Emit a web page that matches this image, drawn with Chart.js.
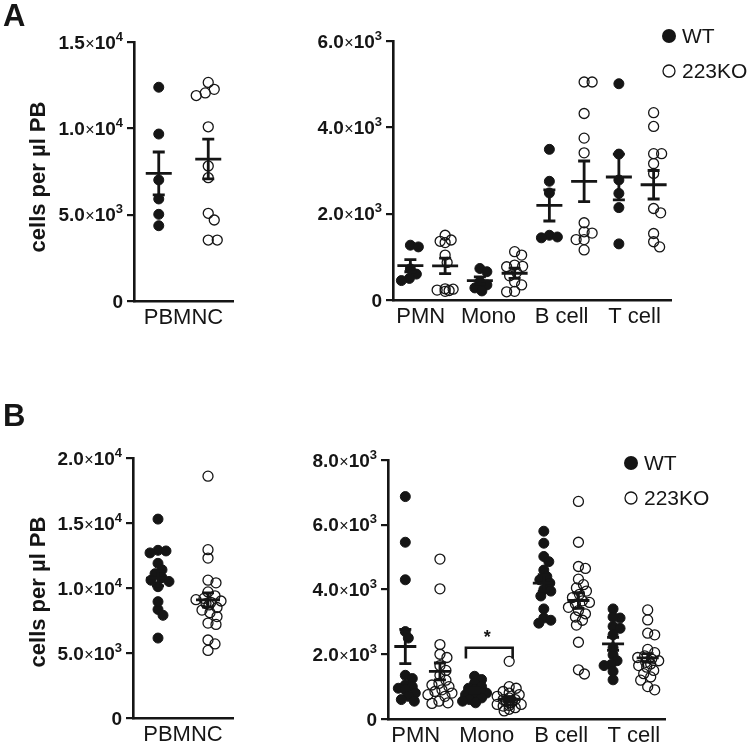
<!DOCTYPE html>
<html>
<head>
<meta charset="utf-8">
<script src="https://cdn.jsdelivr.net/npm/chart.js@4.4.1/dist/chart.umd.min.js"></script>
<style>
  body { margin: 0; background: #fff; }
  #wrap { position: relative; width: 750px; height: 747px; }
  #wrap canvas { position: absolute; left: 0; top: 0; }
</style>
</head>
<body>
<div id="wrap">
  <canvas id="cA1" width="750" height="747"></canvas>
  <canvas id="cA2" width="750" height="747"></canvas>
  <canvas id="cB1" width="750" height="747"></canvas>
  <canvas id="cB2" width="750" height="747"></canvas>
</div>
<script>
// ---- data (cells per ul PB) ----
const seriesNames = ['WT', '223KO'];
const leftCats = ['PBMNC'];
const rightCats = ['PMN', 'Mono', 'B cell', 'T cell'];

// Panel A, left
const aLeftWT = [12380, 9670, 7010, 5910, 4360, 5020];
const aLeftKO = [12660, 12260, 12050, 11900, 10090, 7820, 7140, 5080, 4690, 3530, 3530];
const aLeftMean = [7390, 8220];
const aLeftSem = [1240, 1150];

// Panel A, right (one list per cell type)
const aRightWT = [
  [1270, 1230, 720, 600, 500, 450],
  [730, 655, 420, 350, 280, 210],
  [3490, 2750, 2480, 1500, 1460, 1440],
  [5010, 3380, 2780, 2470, 2140, 1300]
];
const aRightKO = [
  [1500, 1390, 1360, 1330, 1040, 870, 260, 230, 220, 200, 250],
  [1120, 1040, 810, 770, 780, 640, 560, 420, 350, 200, 190],
  [5050, 5050, 4320, 3750, 3410, 1790, 1580, 1550, 1400, 1400, 1160],
  [4340, 4020, 3390, 3390, 3160, 2930, 2120, 2020, 1540, 1350, 1230]
];
const aRightMeanWT = [795, 450, 2190, 2850];
const aRightSemWT = [140, 85, 360, 530];
const aRightMeanKO = [790, 620, 2750, 2670];
const aRightSemKO = [180, 120, 470, 330];

// Panel B, left
const bLeftWT = [15300, 12900, 12700, 12850, 11900, 11400, 11100, 10800, 10500, 10100, 8350, 7900, 8950, 6150, 10600];
const bLeftKO = [18600, 12950, 12300, 10600, 10400, 9700, 9400, 9200, 9000, 8900, 8800, 8700, 8500, 8300, 8100, 7800, 7300, 7200, 6000, 5700, 5200, 9100];
const bLeftMean = [10750, 9080];
const bLeftSem = [580, 540];

// Panel B, right
const bRightWT = [
  [6870, 5460, 4300, 2700, 2500, 1350, 1250, 1050, 1000, 950, 900, 800, 700, 600, 550],
  [1320, 1220, 1100, 1000, 950, 900, 850, 800, 750, 700, 650, 600, 550, 500],
  [5800, 5430, 5020, 4860, 4600, 4400, 4200, 4000, 3950, 3800, 3400, 3120, 2960, 3050, 4300],
  [3400, 3120, 3150, 2860, 2800, 2600, 2200, 1980, 1800, 1680, 1650, 1470, 1210]
];
const bRightKO = [
  [4940, 4020, 2300, 2000, 1900, 1650, 1500, 1350, 1200, 1100, 1050, 1000, 900, 850, 800, 750, 700, 550, 500, 480],
  [1780, 1000, 950, 850, 800, 750, 700, 650, 600, 560, 550, 500, 450, 420, 400, 350, 300, 250, 500, 600, 450, 550],
  [6720, 5460, 4710, 4650, 4320, 4150, 4050, 3950, 3850, 3750, 3650, 3550, 3450, 3350, 3250, 3150, 3050, 2900, 2370, 1520, 1390, 3600],
  [3370, 3060, 2650, 2600, 2150, 2050, 1950, 1900, 1850, 1800, 1750, 1700, 1650, 1600, 1500, 1400, 1300, 1200, 1000, 900]
];
const bRightMeanWT = [2240, 880, 4200, 2320];
const bRightSemWT = [530, 80, 260, 200];
const bRightMeanKO = [1470, 610, 3660, 1890];
const bRightSemKO = [260, 80, 240, 130];

// WT Mono vs 223KO Mono, p < 0.05
const monoSig = { from: 2.25, to: 3.6, top: 2200, foot: 1870, text: '*' };

const FONT = "'Liberation Sans', Arial, Helvetica, sans-serif";
const INK = '#151515';

// spread dots sideways like a column scatter (pixel space)
function swarm(values, center, pxX, pxY, r, maxHalf, overlap) {
    const placed = [];
    const out = new Array(values.length);
    const order = values.map((v, i) => i).sort((a, b) => values[b] - values[a]);
    order.forEach(i => {
        const py = values[i] * pxY;
        let best = 0, bestScore = -Infinity;
        for (let k = 0; k <= 2 * maxHalf; k++) {
            const off = k === 0 ? 0 : (k % 2 ? (k + 1) / 2 : -k / 2);
            let dmin = Infinity;
            placed.forEach(p => {
                const d = Math.hypot(p.ox - off, p.py - py);
                if (d < dmin) dmin = d;
            });
            if (dmin >= 2 * r * overlap) { best = off; break; }
            const score = dmin - 0.5 * Math.abs(off);
            if (score > bestScore) { bestScore = score; best = off; }
        }
        placed.push({ ox: best, py: py });
        out[i] = { x: center + best / pxX, y: values[i] };
    });
    return out;
}

function sciParts(v) {
    const e = Math.floor(Math.log10(v) + 1e-9);
    return [(v / Math.pow(10, e)).toFixed(1), '\u00d7', '10', String(e)];
}

const semBars = {
    id: 'semBars',
    afterDatasetsDraw(chart, args, o) {
        const { ctx, scales: { x, y } } = chart;
        ctx.save();
        ctx.strokeStyle = INK;
        ctx.lineWidth = o.lineWidth;
        ctx.lineCap = 'butt';
        o.centers.forEach((c, i) => {
            const px = x.getPixelForValue(c);
            const pm = y.getPixelForValue(o.means[i]);
            const pt = y.getPixelForValue(o.means[i] + o.sems[i]);
            const pb = y.getPixelForValue(o.means[i] - o.sems[i]);
            ctx.beginPath();
            ctx.moveTo(px - o.halfMean, pm); ctx.lineTo(px + o.halfMean, pm);
            ctx.moveTo(px, pt); ctx.lineTo(px, pb);
            ctx.moveTo(px - o.halfCap, pt); ctx.lineTo(px + o.halfCap, pt);
            ctx.moveTo(px - o.halfCap, pb); ctx.lineTo(px + o.halfCap, pb);
            ctx.stroke();
        });
        ctx.restore();
    }
};

const decor = {
    id: 'decor',
    afterDraw(chart, args, o) {
        const { ctx, chartArea, scales: { x, y } } = chart;
        ctx.save();
        ctx.fillStyle = INK;

        // y tick labels as 1.5x10^4
        const xr = chartArea.left - 11;
        y.ticks.forEach(t => {
            const base = y.getPixelForValue(t.value) + 6.5;
            ctx.textAlign = 'right';
            ctx.textBaseline = 'alphabetic';
            if (t.value === 0) {
                ctx.font = 'bold 19px ' + FONT;
                ctx.fillText('0', xr, base);
                return;
            }
            const p = sciParts(t.value);
            const fonts = ['bold 19px', '16px', 'bold 19px', 'bold 13px'];
            const lift = [0, 0, 0, -8];
            let cx = xr;
            for (let i = p.length - 1; i >= 0; i--) {
                ctx.font = fonts[i] + ' ' + FONT;
                ctx.fillText(p[i], cx, base + lift[i]);
                cx -= ctx.measureText(p[i]).width + (i === 1 ? 0.5 : 0);
            }
        });

        // panel letter
        ctx.textAlign = 'left';
        ctx.textBaseline = 'alphabetic';
        ctx.font = 'bold 31px ' + FONT;
        if (o.letter) ctx.fillText(o.letter.text, o.letter.x, o.letter.y);

        // axis title
        if (o.title) {
            ctx.save();
            ctx.translate(o.title.x, o.title.y);
            ctx.rotate(-Math.PI / 2);
            ctx.textAlign = 'center';
            ctx.textBaseline = 'middle';
            ctx.font = 'bold 22px ' + FONT;
            ctx.fillText(o.title.text, 0, 0);
            ctx.restore();
        }

        // legend
        if (o.legend) {
            const L = o.legend;
            ctx.textBaseline = 'middle';
            ctx.font = '21px ' + FONT;
            ctx.beginPath();
            ctx.arc(L.x, L.y, 7, 0, Math.PI * 2);
            ctx.fill();
            ctx.fillText(seriesNames[0], L.x + 13, L.y + 1);
            ctx.beginPath();
            ctx.lineWidth = 1.3;
            ctx.strokeStyle = INK;
            ctx.arc(L.x, L.y + L.gap, 6, 0, Math.PI * 2);
            ctx.stroke();
            ctx.fillText(seriesNames[1], L.x + 13, L.y + L.gap + 1);
        }

        // significance bracket
        if (o.bracket) {
            const b = o.bracket;
            const x1 = x.getPixelForValue(b.from), x2 = x.getPixelForValue(b.to);
            const yt = y.getPixelForValue(b.top), yf = y.getPixelForValue(b.foot);
            ctx.strokeStyle = INK;
            ctx.lineWidth = 2.6;
            ctx.beginPath();
            ctx.moveTo(x1, yf); ctx.lineTo(x1, yt); ctx.lineTo(x2, yt); ctx.lineTo(x2, yf);
            ctx.stroke();
            ctx.textAlign = 'center';
            ctx.textBaseline = 'middle';
            ctx.font = 'bold 18px ' + FONT;
            ctx.fillText(b.text, (x1 + x2) / 2 - 2, yt - 10);
        }
        ctx.restore();
    }
};

function makePanel(id, cfg) {
    const yW = 10, xH = 40;
    const pxX = (cfg.area.r - cfg.area.l) / cfg.xMax;
    const pxY = (cfg.area.b - cfg.area.t) / cfg.yMax;
    const wtPts = [], koPts = [], centers = [], means = [], sems = [];
    cfg.wt.forEach((vals, i) => {
        wtPts.push(...swarm(vals, 2 * i + 0.5, pxX, pxY, cfg.r, cfg.spread, cfg.overlap));
        centers.push(2 * i + 0.5); means.push(cfg.meanWT[i]); sems.push(cfg.semWT[i]);
    });
    cfg.ko.forEach((vals, i) => {
        koPts.push(...swarm(vals, 2 * i + 1.5, pxX, pxY, cfg.r, cfg.spread, cfg.overlap));
        centers.push(2 * i + 1.5); means.push(cfg.meanKO[i]); sems.push(cfg.semKO[i]);
    });

    return new Chart(document.getElementById(id), {
        type: 'scatter',
        data: {
            datasets: [
                { label: seriesNames[0], data: wtPts, pointRadius: cfg.r, pointBackgroundColor: INK,
                  pointBorderColor: INK, pointBorderWidth: 1, clip: false },
                { label: seriesNames[1], data: koPts, pointRadius: cfg.r, pointBackgroundColor: 'rgba(0,0,0,0)',
                  pointBorderColor: INK, pointBorderWidth: 1.3, clip: false }
            ]
        },
        options: {
            responsive: false,
            animation: false,
            devicePixelRatio: 1,
            events: [],
            layout: { padding: { left: cfg.area.l - yW, right: 750 - cfg.area.r, top: cfg.area.t, bottom: 747 - cfg.area.b - xH } },
            plugins: {
                legend: { display: false },
                tooltip: { enabled: false },
                semBars: { centers, means, sems, halfMean: cfg.halfMean, halfCap: 6, lineWidth: 2.8 },
                decor: { letter: cfg.letter, title: cfg.title, legend: cfg.legend, bracket: cfg.bracket }
            },
            scales: {
                x: {
                    type: 'linear', min: 0, max: cfg.xMax,
                    afterFit: s => { s.height = xH; },
                    afterBuildTicks: s => { s.ticks = cfg.labelPos.map(v => ({ value: v })); },
                    ticks: { callback: (v, i) => cfg.cats[i], color: INK, font: { family: FONT, size: 22 },
                             padding: 4, maxRotation: 0, autoSkip: false },
                    grid: { display: false, drawTicks: false },
                    border: { display: true, color: INK, width: 2.6 }
                },
                y: {
                    min: 0, max: cfg.yMax,
                    afterFit: s => { s.width = yW; },
                    ticks: { stepSize: cfg.yStep, display: false },
                    grid: { display: true, drawOnChartArea: false, drawTicks: true, tickLength: 7, color: INK, lineWidth: 2.2 },
                    border: { display: true, color: INK, width: 2.6 }
                }
            }
        },
        plugins: [semBars, decor]
    });
}

const titleText = 'cells per \u00b5l PB';

makePanel('cA1', {
    area: { l: 134, r: 233, t: 42, b: 301 }, xMax: 2, yMax: 15000, yStep: 5000,
    cats: leftCats, labelPos: [1], wt: [aLeftWT], ko: [aLeftKO],
    meanWT: [aLeftMean[0]], semWT: [aLeftSem[0]], meanKO: [aLeftMean[1]], semKO: [aLeftSem[1]],
    r: 5, spread: 16, overlap: 0.9, halfMean: 13,
    letter: { text: 'A', x: 3, y: 26 }, title: { text: titleText, x: 39, y: 177 }
});

makePanel('cA2', {
    area: { l: 393, r: 671, t: 41, b: 300 }, xMax: 8, yMax: 6000, yStep: 2000,
    cats: rightCats, labelPos: [0.8, 2.75, 4.85, 6.95], wt: aRightWT, ko: aRightKO,
    meanWT: aRightMeanWT, semWT: aRightSemWT, meanKO: aRightMeanKO, semKO: aRightSemKO,
    r: 5, spread: 12, overlap: 0.75, halfMean: 13,
    legend: { x: 669, y: 36, gap: 35 }
});

makePanel('cB1', {
    area: { l: 133, r: 233, t: 458, b: 718 }, xMax: 2, yMax: 20000, yStep: 5000,
    cats: leftCats, labelPos: [1], wt: [bLeftWT], ko: [bLeftKO],
    meanWT: [bLeftMean[0]], semWT: [bLeftSem[0]], meanKO: [bLeftMean[1]], semKO: [bLeftSem[1]],
    r: 5, spread: 16, overlap: 0.75, halfMean: 12,
    letter: { text: 'B', x: 3, y: 426 }, title: { text: titleText, x: 39, y: 592 }
});

makePanel('cB2', {
    area: { l: 388, r: 665, t: 460, b: 719 }, xMax: 8, yMax: 8000, yStep: 2000,
    cats: rightCats, labelPos: [0.8, 2.85, 5.0, 7.1], wt: bRightWT, ko: bRightKO,
    meanWT: bRightMeanWT, semWT: bRightSemWT, meanKO: bRightMeanKO, semKO: bRightSemKO,
    r: 5, spread: 12, overlap: 0.7, halfMean: 11,
    legend: { x: 631, y: 463, gap: 35 }, bracket: monoSig
});
</script>
</body>
</html>
